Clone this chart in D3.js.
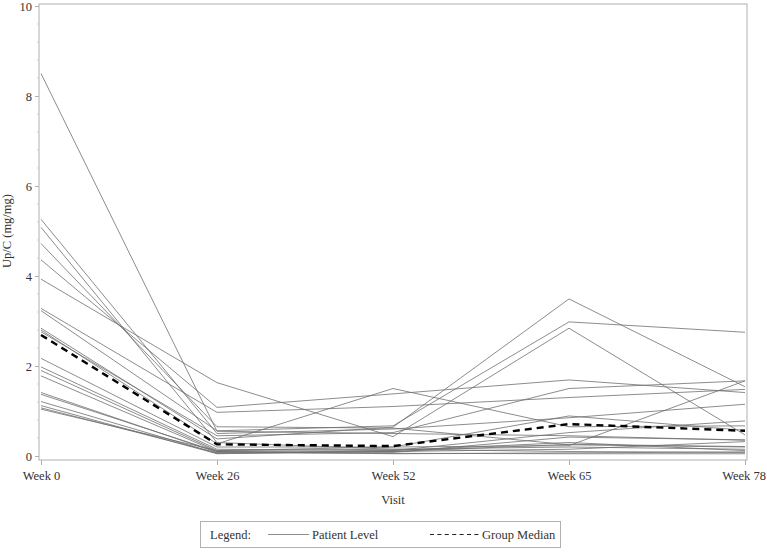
<!DOCTYPE html>
<html><head><meta charset="utf-8">
<script src="https://cdn.jsdelivr.net/npm/d3@7"></script>
<style>body{margin:0;background:#fff}svg{display:block}</style>
</head><body><svg id="c" width="767" height="555"></svg>
<script>
const visits = ["Week 0","Week 26","Week 52","Week 65","Week 78"];
const yTicks = [0,2,4,6,8,10];
const patients = [
  [8.50,0.55,0.50,0.45,0.35],
  [5.26,0.50,0.60,0.85,1.15],
  [5.08,0.30,0.15,0.10,0.08],
  [4.72,0.65,0.62,0.25,0.20],
  [4.36,1.08,1.38,1.69,1.41],
  [3.93,1.63,0.43,2.84,0.47],
  [3.28,0.97,1.10,1.30,1.48],
  [3.23,0.56,0.67,2.98,2.75],
  [2.84,0.38,0.64,3.49,1.54],
  [2.80,0.27,1.50,0.65,0.67],
  [2.76,0.45,0.52,1.50,1.67],
  [2.17,0.20,0.20,0.23,1.67],
  [1.98,0.15,0.12,0.52,0.78],
  [1.90,0.12,0.20,0.89,0.57],
  [1.78,0.10,0.08,0.42,0.36],
  [1.41,0.08,0.10,0.26,0.21],
  [1.37,0.10,0.05,0.07,0.09],
  [1.21,0.06,0.10,0.15,0.32],
  [1.12,0.05,0.12,0.30,0.12],
  [1.07,0.07,0.06,0.05,0.05],
  [1.04,0.12,0.15,0.20,0.15]
];
const median = [2.69,0.26,0.22,0.71,0.56];

const FONT = "'Liberation Serif','Times New Roman',Times,serif";
const svg = d3.select("#c");
const x = d3.scalePoint().domain(visits).range([41,745]);
const y = d3.scaleLinear().domain([0,10]).range([456,6]);
const pL=39, pR=747, pT=4, pB=460;
const frame="#b0b0b0";

svg.append("rect").attr("x",pL).attr("y",pT).attr("width",pR-pL).attr("height",pB-pT)
  .attr("fill","none").attr("stroke",frame).attr("stroke-width",1);

const yAxis = d3.axisLeft(y).tickValues(yTicks).tickSize(4).tickPadding(3);
const gy = svg.append("g").attr("transform",`translate(${pL},0)`).call(yAxis);
gy.select(".domain").remove();
gy.selectAll("line").attr("stroke",frame);

const minor = d3.range(0,10.001,0.4).filter(v=>Math.abs(v/2-Math.round(v/2))>1e-6);
svg.append("g").selectAll("line").data(minor).join("line")
  .attr("x1",pL-2).attr("x2",pL).attr("y1",d=>y(d)).attr("y2",d=>y(d)).attr("stroke","#cfcfcf");

const xAxis = d3.axisBottom(x).tickSize(5).tickPadding(6);
const gx = svg.append("g").attr("transform",`translate(0,${pB})`).call(xAxis);
gx.select(".domain").remove();
gx.selectAll("line").attr("stroke",frame);

svg.append("text").attr("x",393).attr("y",504).attr("text-anchor","middle").text("Visit");
svg.append("text").attr("transform","translate(11,231) rotate(-90)").attr("text-anchor","middle").text("Up/C (mg/mg)");

const line = d3.line().x((d,i)=>x(visits[i])).y(d=>y(d));
svg.append("g").selectAll("path").data(patients).join("path")
  .attr("d",line).attr("fill","none").attr("stroke","#6e6e6e").attr("stroke-width",0.8);
svg.append("path").datum(median).attr("d",line).attr("fill","none")
  .attr("stroke","#000").attr("stroke-width",2.4).attr("stroke-dasharray","7,5");

const lg = svg.append("g");
lg.append("rect").attr("x",200.5).attr("y",521.5).attr("width",360).attr("height",26)
  .attr("fill","#fff").attr("stroke",frame);
lg.append("text").attr("x",210).attr("y",539).text("Legend:");
lg.append("line").attr("x1",268).attr("x2",309).attr("y1",534.5).attr("y2",534.5).attr("stroke","#6e6e6e").attr("stroke-width",0.8);
lg.append("text").attr("x",312).attr("y",539).text("Patient Level");
lg.append("line").attr("x1",430).attr("x2",480).attr("y1",534.5).attr("y2",534.5).attr("stroke","#222").attr("stroke-width",1.2).attr("stroke-dasharray","4,3.4");
lg.append("text").attr("x",482).attr("y",539).text("Group Median");

svg.selectAll("g").attr("font-family",null).attr("font-size",null);
svg.selectAll("text").attr("font-family",FONT).style("font-family",FONT)
  .style("font-size","12.5px").attr("fill","#333");
// keep the last tick label inside the page
gx.selectAll("text").each(function(){
  const b=this.getBBox(); const t=this.getCTM();
  const right = t.e + b.x + b.width;
  if (right > 766) d3.select(this).attr("dx", (766-right)+"px");
});
</script></body></html>
